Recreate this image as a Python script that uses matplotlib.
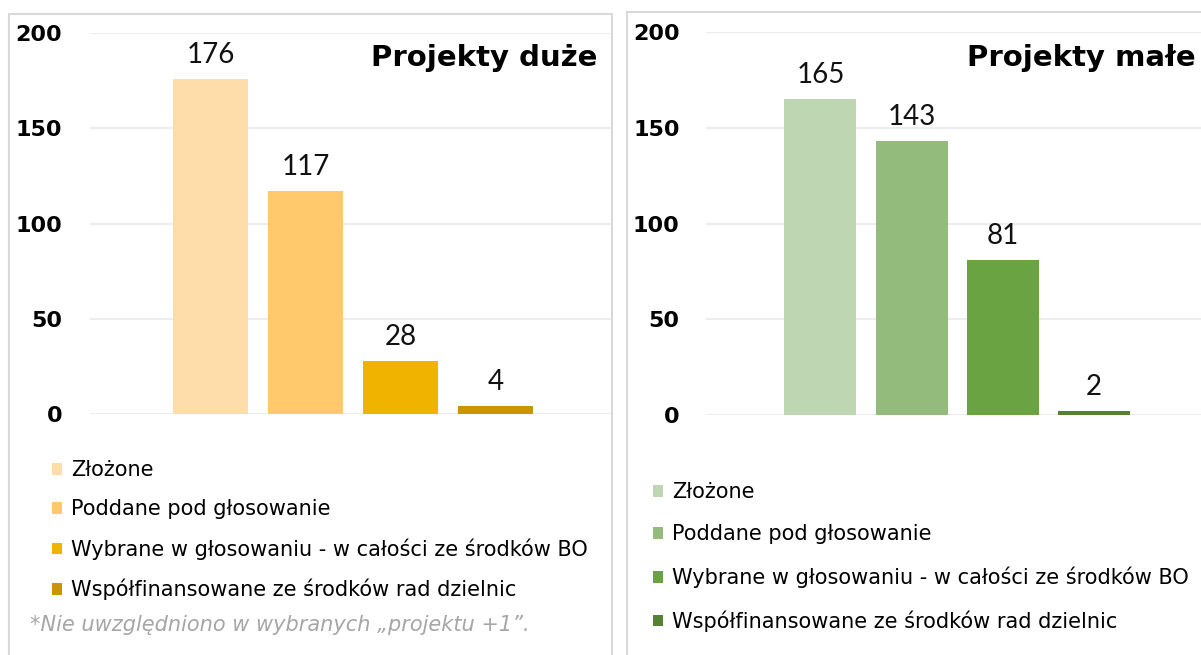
import matplotlib.pyplot as plt
from matplotlib.patches import Patch, Rectangle

# categories (legend entries)
categories = ["Złożone", "Poddane pod głosowanie",
              "Wybrane w głosowaniu - w całości ze środków BO",
              "Współfinansowane ze środków rad dzielnic"]

duze_values = [176, 117, 28, 4]
male_values = [165, 143, 81, 2]

duze_colors = ["#FEDDAB", "#FFC96C", "#F0B400", "#C89600"]
male_colors = ["#BED6B2", "#93BB7B", "#6AA342", "#548235"]

y_ticks = [0, 50, 100, 150, 200]
note = "*Nie uwzględniono w wybranych „projektu +1”."

W, H = 1201, 655
fig = plt.figure(figsize=(W / 100, H / 100), dpi=100)

def fx(px):
        return px / W

def fy(py):
        return 1 - py / H

# panel frames
fig.patches.append(Rectangle((fx(9), fy(700)), fx(603), fy(14) - fy(700), transform=fig.transFigure,
                             fill=False, edgecolor="#D9D9D9", lw=1.5))
fig.patches.append(Rectangle((fx(627), fy(700)), fx(700), fy(12) - fy(700), transform=fig.transFigure,
                             fill=False, edgecolor="#D9D9D9", lw=1.5))

def panel(rect, values, colors, xlim, pad):
        ax = fig.add_axes(rect)
        x = list(range(len(values)))
        bars = ax.bar(x, values, width=0.79, color=colors, zorder=3)
        ax.bar_label(bars, labels=[str(v) for v in values], padding=8, fontsize=20,
                     color="#111111", family="Lato", fontweight="normal")
        ax.set_ylim(0, 200)
        ax.set_xlim(*xlim)
        ax.set_yticks(y_ticks)
        ax.set_yticklabels([str(t) for t in y_ticks], fontsize=16, fontweight="bold")
        ax.tick_params(axis="y", length=0, pad=pad)
        ax.set_xticks([])
        ax.grid(axis="y", color="#EDEDED", lw=1.5, zorder=0)
        for s in ax.spines.values():
                s.set_visible(False)
        ax.patch.set_alpha(0)
        return ax

ax1 = panel([fx(90), fy(414), fx(522), fy(33) - fy(414)], duze_values, duze_colors,
            (-1.268, 4.226), 20)
ax2 = panel([fx(706), fy(415), fx(495), fy(32) - fy(415)], male_values, male_colors,
            (-1.254, 4.17), 19)

fig.text(fx(597), fy(58), "Projekty duże", ha="right", va="center",
         fontsize=21, fontweight="bold")
fig.text(fx(967), fy(58), "Projekty małe", ha="left", va="center",
         fontsize=21, fontweight="bold")

h1 = [Patch(facecolor=c) for c in duze_colors]
h2 = [Patch(facecolor=c) for c in male_colors]
fig.legend(h1, categories, loc="upper left", bbox_to_anchor=(fx(52), fy(460)),
           frameon=False, fontsize=15, handlelength=0.5, handleheight=0.5,
           handletextpad=0.4, labelspacing=0.92, borderpad=0, borderaxespad=0)
fig.legend(h2, categories, loc="upper left", bbox_to_anchor=(fx(653), fy(482)),
           frameon=False, fontsize=15, handlelength=0.5, handleheight=0.5,
           handletextpad=0.4, labelspacing=1.07, borderpad=0, borderaxespad=0)

fig.text(fx(30), fy(625), note, ha="left", va="center", fontsize=15,
         style="italic", color="#A6A6A6")

fig.savefig("out.png", dpi=100)
